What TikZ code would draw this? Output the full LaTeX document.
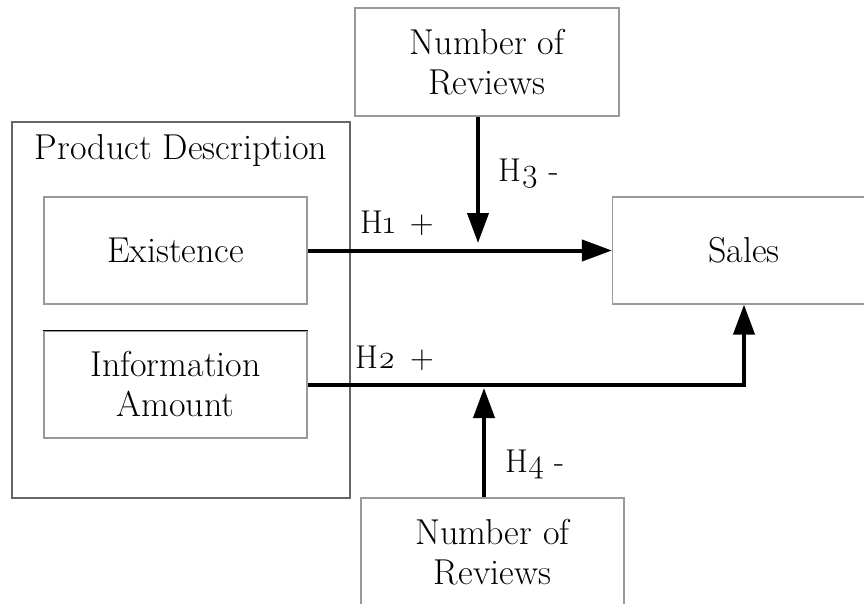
\documentclass[tikz,border=0pt]{standalone}
\usepackage{fontspec}
\setmainfont{Latin Modern Roman}
\newfontfamily\osfnum{Latin Modern Roman}[Numbers=OldStyle]
\usetikzlibrary{arrows.meta,calc}
\begin{document}
\begin{tikzpicture}[x=1pt,y=-1pt,
  box/.style={draw=black!40,line width=1.2pt,rectangle,inner sep=0pt,
    minimum width=263pt,minimum height=107pt,align=center,
    font=\fontsize{36}{40}\selectfont},
  link/.style={line width=4pt,-{Triangle[length=30pt,width=21pt]}},
  hyp/.style={anchor=base west,inner sep=0pt,font=\fontsize{33}{36}\selectfont}]
\useasboundingbox (0,0) rectangle (864,604);
\clip (0,0) rectangle (864,604);
\fill[white] (0,0) rectangle (864,604);

% group frame with its title
\node[draw=black!60,line width=1.2pt,rectangle,inner sep=0pt,
  minimum width=338pt,minimum height=376pt] (pd) at (181,310) {};
\node[font=\fontsize{36}{40}\selectfont,anchor=base] (pdt) at (181,160) {Product Description};

% boxes
\node[box] (ex) at (175.5,250.5) {Existence};
\node[box] (info) at (175.5,384.5) {Information\\Amount};
\draw[black,line width=1.2pt] (info.north west) -- (info.north east);
\node[box] (sales) at (744,250.5) {Sales};
\node[box,minimum width=264pt,minimum height=108pt] (top) at (487,62) {Number of\\Reviews};
\node[box,minimum width=263pt,minimum height=108pt] (bot) at (492.5,552) {Number of\\Reviews};

% junctions of the moderating paths
\coordinate (j1) at (478,251);
\coordinate (j2) at (484,386);

% paths
\draw[link] (ex.east) -- (sales.west);
\draw[link] (info.east) -| (sales.south);
\draw[link,shorten >=8pt] (top.south -| j1) -- (j1);
\draw[link] (bot.north -| j2) -- ($(j2)+(0,2)$);

% hypothesis labels
\node[hyp] (h1) at (360,233) {H{\osfnum 1}\hspace{0.45em}+};
\node[hyp] (h3) at (498,182) {H{\osfnum 3} -};
\node[hyp] (h2) at (355,368) {H{\osfnum 2}\hspace{0.45em}+};
\node[hyp] (h4) at (505,472) {H{\osfnum 4} -};
\end{tikzpicture}
\end{document}
